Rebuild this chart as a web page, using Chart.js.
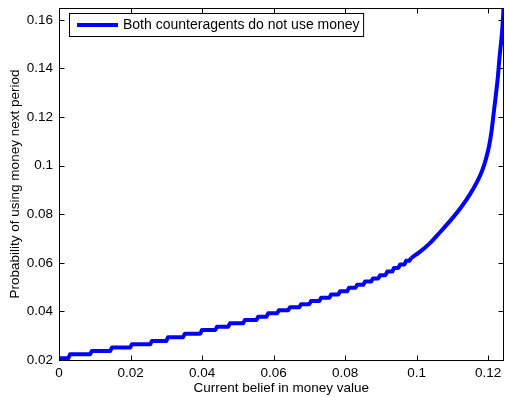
<!DOCTYPE html>
<html>
<head>
<meta charset="utf-8">
<script src="https://cdn.jsdelivr.net/npm/chart.js@4.4.0/dist/chart.umd.min.js"></script>
<style>
  html, body { margin: 0; padding: 0; background: #fff; }
</style>
</head>
<body>
<canvas id="chart" width="505" height="397"></canvas>
<script>
// Low-belief part of the curve: each point opens a new flat level
const stairBelief = [0, 0.0031, 0.0092, 0.0148, 0.0204, 0.0260, 0.0305, 0.0352, 0.0400, 0.0442,
  0.0478, 0.0520, 0.0557, 0.0585, 0.0615, 0.0646, 0.0677, 0.0705, 0.0733, 0.0761,
  0.0786, 0.0811, 0.0834, 0.0856, 0.0878, 0.0898, 0.0918, 0.0937, 0.0954, 0.0971, 0.0985];
const stairProb = [0.0207, 0.0224, 0.0237, 0.0251, 0.0265, 0.0278, 0.0294, 0.0308, 0.0324, 0.0337,
  0.0351, 0.0365, 0.0378, 0.0392, 0.0405, 0.0417, 0.0430, 0.0443, 0.0456, 0.0470,
  0.0483, 0.0497, 0.0510, 0.0523, 0.0536, 0.0549, 0.0564, 0.0579, 0.0593, 0.0609, 0.0620];

// Steep part near the upper end of the belief range
const tailBelief = [0.0985, 0.1010, 0.1038, 0.1066, 0.1102, 0.1127, 0.1150, 0.1169, 0.1183, 0.1194,
  0.1203, 0.1210, 0.1215, 0.1221, 0.1227, 0.1232, 0.1238, 0.1242, 0.1243];
const tailProb = [0.0620, 0.0646, 0.0682, 0.0727, 0.0787, 0.0834, 0.0884, 0.0933, 0.0978, 0.1028,
  0.1083, 0.1147, 0.1209, 0.1283, 0.1361, 0.1448, 0.1534, 0.1616, 0.1649];

const beliefTicks = [0, 0.02, 0.04, 0.06, 0.08, 0.1, 0.12];
const probTicks = [0.02, 0.04, 0.06, 0.08, 0.1, 0.12, 0.14, 0.16];

const seriesLabel = "Both counteragents do not use money";
const lineColor = "#0000ff";
const fontFamily = "'Liberation Sans', Arial, Helvetica, sans-serif";
const riser = 0.0005; // horizontal run of each small step

// flat levels joined by short slanted risers
function stairPoints(xs, ys) {
  const pts = [];
  xs.forEach((x, i) => {
    pts.push({ x: x, y: ys[i] });
    if (i < xs.length - 1) pts.push({ x: xs[i + 1] - riser, y: ys[i] });
  });
  return pts;
}

function toPoints(xs, ys) {
  return xs.map((x, i) => ({ x: x, y: ys[i] }));
}

// Box around the axes, with inward ticks on all four sides
const axesBox = {
  id: "axesBox",
  afterDraw(chart) {
    const ctx = chart.ctx;
    const a = chart.chartArea;
    const xs = chart.scales.x;
    const ys = chart.scales.y;
    const L = Math.round(a.left) + 0.5;
    const R = Math.round(a.right) - 0.5;
    const T = Math.round(a.top) + 0.5;
    const B = Math.round(a.bottom) + 0.5;
    const len = 5;
    ctx.save();
    ctx.strokeStyle = "#000";
    ctx.lineWidth = 1;
    ctx.beginPath();
    beliefTicks.forEach((v) => {
      const px = Math.round(xs.getPixelForValue(v)) + 0.5;
      ctx.moveTo(px, B); ctx.lineTo(px, B - len);
      ctx.moveTo(px, T); ctx.lineTo(px, T + len);
    });
    probTicks.forEach((v) => {
      const py = Math.round(ys.getPixelForValue(v)) + 0.5;
      ctx.moveTo(L, py); ctx.lineTo(L + len, py);
      ctx.moveTo(R, py); ctx.lineTo(R - len, py);
    });
    ctx.stroke();
    ctx.strokeRect(L, T, R - L, B - T);
    ctx.restore();
  },
};

// Boxed legend in the upper-left corner of the plot
const boxLegend = {
  id: "boxLegend",
  afterDraw(chart) {
    const ctx = chart.ctx;
    const label = chart.data.datasets[0].label;
    ctx.save();
    ctx.font = "14px " + fontFamily;
    const textW = ctx.measureText(label).width;
    const x0 = 69.5, y0 = 13.5, h = 23;
    const lineX0 = 77, lineX1 = 118, textX = 123;
    const w = textX + textW + 4 - x0;
    ctx.fillStyle = "#fff";
    ctx.fillRect(x0, y0, w, h);
    ctx.strokeStyle = "#000";
    ctx.lineWidth = 1;
    ctx.strokeRect(x0, y0, w, h);
    const midY = y0 + h / 2;
    ctx.strokeStyle = lineColor;
    ctx.lineWidth = 4;
    ctx.beginPath();
    ctx.moveTo(lineX0, midY);
    ctx.lineTo(lineX1, midY);
    ctx.stroke();
    ctx.fillStyle = "#000";
    ctx.textBaseline = "middle";
    ctx.textAlign = "left";
    ctx.fillText(label, textX, midY + 0.5);
    ctx.restore();
  },
};

function fixX(scale) {
  scale.height = 37;
  scale.paddingLeft = 0;
  scale.paddingRight = 0;
  scale.paddingTop = 0;
  scale.paddingBottom = 0;
}

function fixY(scale) {
  scale.width = 59;
  scale.paddingLeft = 0;
  scale.paddingRight = 0;
  scale.paddingTop = 0;
  scale.paddingBottom = 0;
}

new Chart(document.getElementById("chart"), {
  type: "line",
  data: {
    datasets: [
      {
        label: seriesLabel,
        data: stairPoints(stairBelief, stairProb),
        borderColor: lineColor,
        borderWidth: 4,
        borderJoinStyle: "round",
        pointRadius: 0,
        fill: false,
      },
      {
        label: seriesLabel,
        data: toPoints(tailBelief, tailProb),
        borderColor: lineColor,
        borderWidth: 4,
        borderJoinStyle: "round",
        cubicInterpolationMode: "monotone",
        pointRadius: 0,
        fill: false,
      },
    ],
  },
  options: {
    responsive: false,
    devicePixelRatio: 1,
    animation: false,
    layout: { padding: { top: 8, right: 1.5, bottom: 0, left: 0 } },
    plugins: {
      legend: { display: false },
      tooltip: { enabled: false },
    },
    scales: {
      x: {
        type: "linear",
        min: 0,
        max: 0.1243,
        afterBuildTicks: (s) => { s.ticks = beliefTicks.map((v) => ({ value: v })); },
        afterFit: fixX,
        grid: { display: false, drawTicks: false },
        border: { display: false },
        ticks: {
          padding: 5,
          color: "#000",
          maxRotation: 0,
          autoSkip: false,
          font: { family: fontFamily, size: 13.5 },
          callback: (v) => String(v),
        },
        title: {
          display: true,
          text: "Current belief in money value",
          color: "#000",
          font: { family: fontFamily, size: 13.5 },
          padding: { top: 0, bottom: 1 },
        },
      },
      y: {
        type: "linear",
        min: 0.02,
        max: 0.1649,
        afterBuildTicks: (s) => { s.ticks = probTicks.map((v) => ({ value: v })); },
        afterFit: fixY,
        grid: { display: false, drawTicks: false },
        border: { display: false },
        ticks: {
          padding: 6,
          color: "#000",
          autoSkip: false,
          font: { family: fontFamily, size: 13.5 },
          callback: (v) => String(v),
        },
        title: {
          display: true,
          text: "Probability of using money next period",
          color: "#000",
          font: { family: fontFamily, size: 13.5 },
          padding: { top: 7, bottom: 0 },
        },
      },
    },
  },
  plugins: [axesBox, boxLegend],
});
</script>
</body>
</html>
